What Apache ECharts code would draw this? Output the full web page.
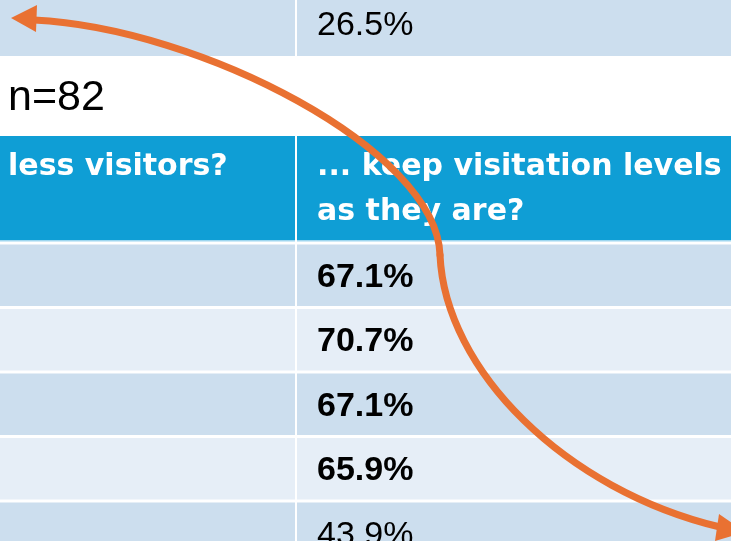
<!DOCTYPE html>
<html>
<head>
<meta charset="utf-8">
<script src="https://cdn.jsdelivr.net/npm/echarts@6/dist/echarts.min.js"></script>
<style>
  html, body { margin: 0; padding: 0; background: #ffffff; }
  #chart { width: 731px; height: 541px; }
</style>
</head>
<body>
<div id="chart"></div>
<script>
// ---------------- data ----------------
const columnHeaders = ['less visitors?', '... keep visitation levels\nas they are?'];
const previousTableRow = ['', '26.5%'];          // last row of the table above (cut off)
const sampleSizeLabel = 'n=82';
const lessVisitors = ['', '', '', '', ''];         // left column values are cropped away
const keepLevels = [67.1, 70.7, 67.1, 65.9, 43.9]; // "... keep visitation levels as they are?"

// ---------------- layout & style (not data) ----------------
const W = 731, H = 541;
const colEdges = [[-20, 295], [297, 760]];
const textX = [8, 317];
const bands = {
  prev:   [-20, 56],
  n:      [56, 136],
  header: [136, 240],
  dataTop: 244.5, dataPitch: 64.5, dataGap: 3
};
const boldRows = 4; // first four data rows bold
const colors = {
  dark: '#CCDEEE', light: '#E6EEF7', header: '#0F9ED5', headerLine: '#9ED6EF',
  arrow: '#E97132', text: '#000000'
};
const numFont = "'Liberation Sans', Arial, sans-serif";
const headFont = "'DejaVu Sans', sans-serif";

// ---------------- build cells ----------------
const cells = [];
previousTableRow.forEach((t, c) => cells.push({ value: [c, 0], kind: 'prev', text: t }));
cells.push({ value: [0, 1], kind: 'n', text: sampleSizeLabel });
columnHeaders.forEach((t, c) => cells.push({ value: [c, 2], kind: 'header', text: t }));
keepLevels.forEach((v, r) => {
  cells.push({ value: [0, 3 + r], kind: 'data', text: lessVisitors[r], row: r });
  cells.push({ value: [1, 3 + r], kind: 'data', text: v.toFixed(1) + '%', row: r });
});

function rowSpan(cell) {
  if (cell.kind === 'prev') return bands.prev;
  if (cell.kind === 'n') return bands.n;
  if (cell.kind === 'header') return bands.header;
  const top = bands.dataTop + cell.row * bands.dataPitch;
  return [top, top + bands.dataPitch - bands.dataGap];
}

function renderItem(params, api) {
  const cell = cells[params.dataIndex];
  const col = api.value(0);
  const [y0, y1] = rowSpan(cell);
  const [x0, x1] = (cell.kind === 'n') ? [-20, 760] : colEdges[col];
  const p0 = api.coord([x0, y0]);
  const p1 = api.coord([x1, y1]);
  const children = [];
  let fill = null;
  if (cell.kind === 'prev') fill = colors.dark;
  else if (cell.kind === 'header') fill = colors.header;
  else if (cell.kind === 'data') fill = (cell.row % 2 === 0) ? colors.dark : colors.light;
  if (fill) {
    children.push({ type: 'rect', shape: { x: p0[0], y: p0[1], width: p1[0] - p0[0], height: p1[1] - p0[1] }, style: { fill: fill } });
  }
  if (cell.kind === 'header') {
    const q0 = api.coord([x0, y1]);
    children.push({ type: 'rect', shape: { x: q0[0], y: q0[1], width: p1[0] - p0[0], height: 1.5 }, style: { fill: colors.headerLine } });
  }
  const tx = api.coord([textX[col], 0])[0];
  if (cell.text) {
    if (cell.kind === 'header') {
      const lines = cell.text.split('\n');
      lines.forEach((ln, i) => {
        const ty = api.coord([0, 167 + i * 45])[1];
        children.push({ type: 'text', style: { text: ln, x: tx, y: ty, font: 'bold 30px ' + headFont, fill: '#ffffff', align: 'left', verticalAlign: 'middle' } });
      });
    } else {
      let size = 34, weight = 'normal', cy = (y0 + y1) / 2;
      if (cell.kind === 'n') { size = 43; cy = 98; }
      if (cell.kind === 'prev') { cy = 26; }
      if (cell.kind === 'data') { cy = (y0 + y1) / 2 + 2; if (cell.row < boldRows) weight = 'bold'; }
      const ty = api.coord([0, cy])[1];
      children.push({ type: 'text', style: { text: cell.text, x: tx, y: ty, font: weight + ' ' + size + 'px ' + numFont, fill: colors.text, align: 'left', verticalAlign: 'middle' } });
    }
  }
  return { type: 'group', children: children };
}

// ---------------- arrow annotation ----------------
const arrowStroke = { stroke: colors.arrow, lineWidth: 7, fill: null, lineCap: 'round' };
const arrowGraphics = [
  { type: 'bezierCurve', z: 100, shape: { x1: 34, y1: 20, cpx1: 200, cpy1: 28, cpx2: 437, cpy2: 150, x2: 440, y2: 255 }, style: arrowStroke },
  { type: 'bezierCurve', z: 100, shape: { x1: 440, y1: 255, cpx1: 445, cpy1: 370, cpx2: 565, cpy2: 490, x2: 720, y2: 527 }, style: arrowStroke },
  { type: 'polygon', z: 101, shape: { points: [[11, 18], [37, 5], [36, 32]] }, style: { fill: colors.arrow } },
  { type: 'polygon', z: 101, shape: { points: [[745, 532], [719, 514], [715, 541]] }, style: { fill: colors.arrow } }
];

const chart = echarts.init(document.getElementById('chart'), null, { renderer: 'canvas' });
chart.setOption({
  animation: false,
  backgroundColor: '#ffffff',
  grid: { left: 0, right: 0, top: 0, bottom: 0, containLabel: false },
  xAxis: { type: 'value', min: 0, max: W, show: false },
  yAxis: { type: 'value', min: 0, max: H, inverse: true, show: false },
  series: [{
    type: 'custom',
    renderItem: renderItem,
    clip: false,
    data: cells.map(c => c.value)
  }],
  graphic: arrowGraphics
});
</script>
</body>
</html>
